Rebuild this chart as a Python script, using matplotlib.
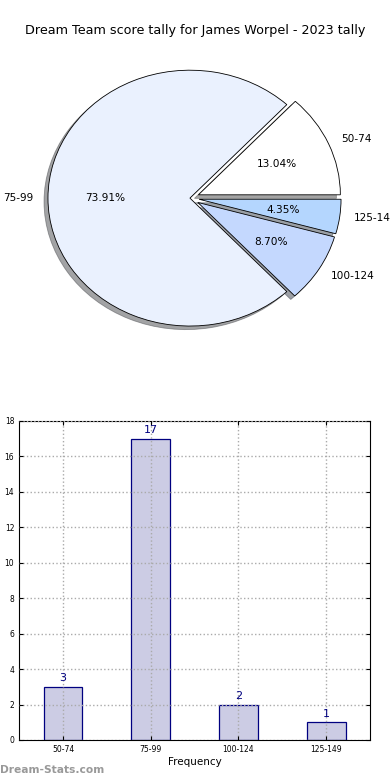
import matplotlib
matplotlib.use('Agg')
import matplotlib.pyplot as plt
import numpy as np

# data
ranges = ['50-74', '75-99', '100-124', '125-149']
counts = [3, 17, 2, 1]
pie_colors = ['#ffffff', '#eaf1fe', '#c4d8fe', '#b4d6fe']
explode = [0.065, 0.0, 0.065, 0.065]

fig = plt.figure(figsize=(3.9, 7.8), dpi=100)
fig.text(0.5, 0.961, 'Dream Team score tally for James Worpel - 2023 tally',
         ha='center', va='center', fontsize=9.2)

# pie
ax1 = fig.add_axes([0.032, 0.541, 0.91, 0.41])
wedges, texts, autotexts = ax1.pie(counts, labels=ranges, colors=pie_colors, explode=explode,
                                   autopct='%1.2f%%', shadow=True, startangle=0,
                                   wedgeprops={'edgecolor': 'black', 'linewidth': 0.6},
                                   textprops={'fontsize': 7.6})
ax1.set_aspect('auto')
ax1.set_xlim(-1.25, 1.25)
ax1.set_ylim(-1.25, 1.25)

# bars
ax2 = fig.add_axes([0.049, 0.0513, 0.9, 0.409])
x = np.arange(len(ranges))
bars = ax2.bar(x, counts, width=0.44, color='#ccccE4', edgecolor='navy', linewidth=0.9)
for xi, c in zip(x, counts):
    ax2.text(xi, c + 0.2, str(c), ha='center', va='bottom', color='navy', fontsize=8)
ax2.set_xlim(-0.5, 3.5)
ax2.set_ylim(0, 18)
ax2.set_yticks(range(0, 19, 2))
ax2.set_xticks(x)
ax2.set_xticklabels(ranges)
ax2.tick_params(labelsize=5.5, direction='in', length=3, top=True, right=True)
ax2.set_axisbelow(False)
ax2.grid(True, linestyle=':', color='#aaaaaa', linewidth=1)
ax2.set_xlabel('Frequency', fontsize=7.5, labelpad=2)
ax2.set_ylabel('Distribution', fontsize=7.5, labelpad=2)

fig.text(0.0, 0.013, 'Dream-Stats.com', fontsize=7.7, color='#999999',
         fontweight='bold', ha='left', va='center')

fig.savefig('out.png', dpi=100)
